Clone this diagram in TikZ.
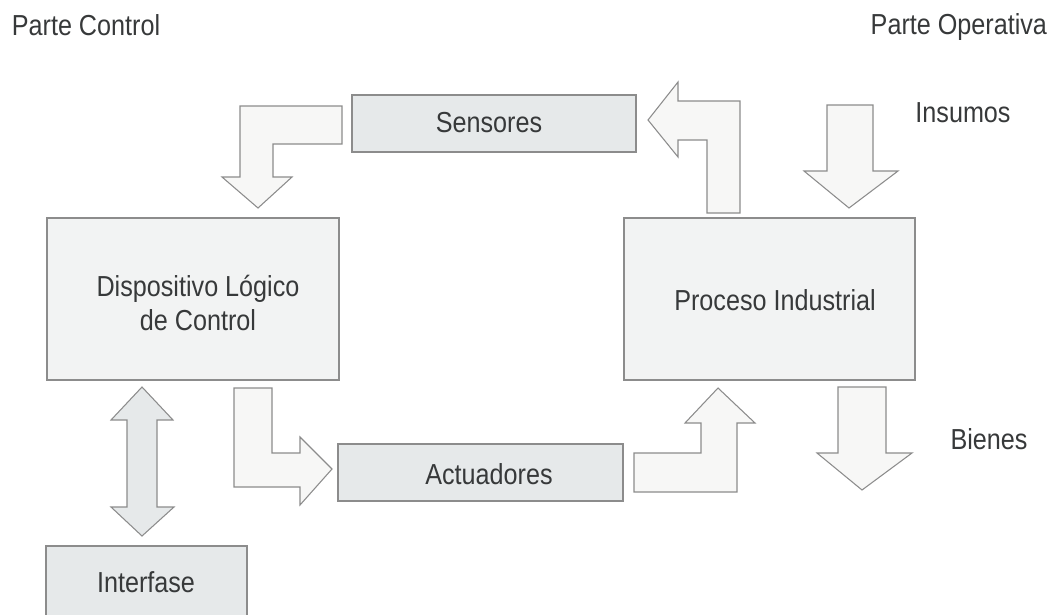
\documentclass[tikz,border=0pt]{standalone}
\usepackage{fontspec}
\setmainfont{Liberation Sans}[FakeStretch=0.87]
\definecolor{edge}{HTML}{8C8C8C}
\definecolor{boxa}{HTML}{E6E9EA}
\definecolor{boxb}{HTML}{F2F3F3}
\definecolor{arrowfill}{HTML}{F7F7F6}
\definecolor{ink}{HTML}{37393A}
\begin{document}
\begin{tikzpicture}[x=0.75pt,y=-0.75pt,
  every node/.style={inner sep=0pt,outer sep=0pt},
  txt/.style={anchor=base,text=ink,font=\fontsize{21.7}{25}\selectfont},
  blockA/.style={draw=edge,line width=0.8pt,fill=boxa},
  blockB/.style={draw=edge,line width=0.8pt,fill=boxb},
  fatarrow/.style={draw=edge,line width=0.8pt,fill=arrowfill,line join=miter},
  duplex/.style={draw=edge,line width=0.8pt,fill=boxa,line join=miter}]
\useasboundingbox (0,0) rectangle (1055,614);
\clip (0,0) rectangle (1055,614);

% blocks
\draw[blockA] (352,95) rectangle (636,152);
\draw[blockB] (47,218) rectangle (339,380);
\draw[blockB] (624,218) rectangle (915,380);
\draw[blockA] (338,444) rectangle (623,501);
\draw[blockA] (46,546) rectangle (247,625);

% block arrows
% Sensores -> Dispositivo
\draw[fatarrow] (240,106) -- (342,106) -- (342,144) -- (273,144) -- (273,177)
  -- (292,177) -- (258,208) -- (222,177) -- (240,177) -- cycle;
% Proceso -> Sensores
\draw[fatarrow] (707,213) -- (740,213) -- (740,101) -- (678,101) -- (678,82)
  -- (648,120) -- (678,157) -- (678,140) -- (707,140) -- cycle;
% Insumos
\draw[fatarrow] (827,105) -- (873,105) -- (873,171) -- (898,171) -- (849,208)
  -- (804,171) -- (827,171) -- cycle;
% Dispositivo -> Actuadores
\draw[fatarrow] (234,388) -- (272,388) -- (272,453) -- (300,453) -- (300,437)
  -- (332,469) -- (300,505) -- (300,487) -- (234,487) -- cycle;
% Actuadores -> Proceso
\draw[fatarrow] (634,453) -- (701,453) -- (701,423) -- (685,423) -- (718,388)
  -- (755,423) -- (737,423) -- (737,492) -- (634,492) -- cycle;
% Bienes
\draw[fatarrow] (838,387) -- (886,387) -- (886,453) -- (912,453) -- (862,490)
  -- (817,453) -- (838,453) -- cycle;
% Dispositivo <-> Interfase
\draw[duplex] (142,387) -- (173,420) -- (157,420) -- (157,507) -- (174,507)
  -- (142,536) -- (111,507) -- (127,507) -- (127,420) -- (111,420) -- cycle;

% texts
\node[txt] (tControl) at (86,35) {Parte Control};
\node[txt,anchor=base east] (tOper) at (1047,34) {Parte Operativa};
\node[txt] (tSens) at (489,132) {Sensores};
\node[txt] (tIns) at (963,122) {Insumos};
\node[txt,align=center] (tDisp) at (198,330) {Dispositivo Lógico\\de Control};
\node[txt] (tProc) at (775,310) {Proceso Industrial};
\node[txt] (tAct) at (489,484) {Actuadores};
\node[txt] (tBien) at (989,449) {Bienes};
\node[txt] (tInt) at (146,592) {Interfase};
\end{tikzpicture}
\end{document}
